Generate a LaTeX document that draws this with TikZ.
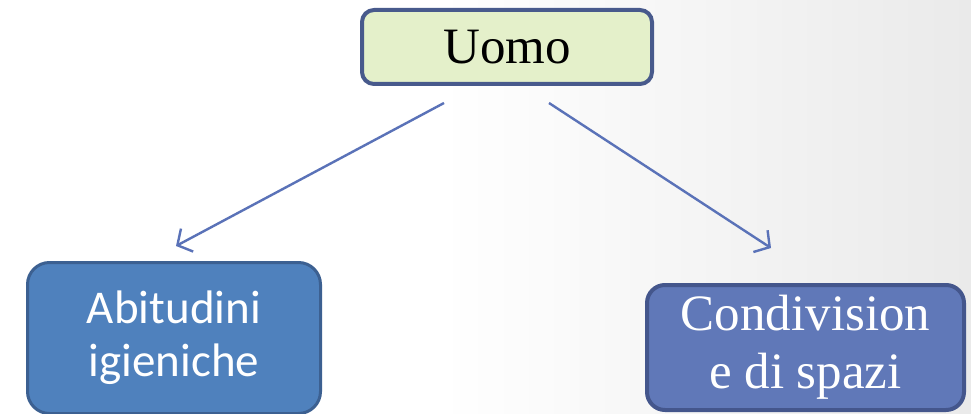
\documentclass[tikz,border=0pt]{standalone}
\usepackage{fontspec}
\newfontfamily\carlito{Carlito}
\newfontfamily\seriffont{Liberation Serif}
\usetikzlibrary{arrows.meta}
\definecolor{bggray}{RGB}{234,234,234}
\definecolor{uomofill}{RGB}{228,240,202}
\definecolor{uomodraw}{RGB}{72,90,140}
\definecolor{abifill}{RGB}{79,129,189}
\definecolor{abidraw}{RGB}{60,96,145}
\definecolor{confill}{RGB}{96,120,184}
\definecolor{condraw}{RGB}{68,86,140}
\definecolor{arrowcol}{RGB}{90,114,184}
\tikzset{
  boxbase/.style={rectangle, inner sep=0pt, align=center},
  topbox/.style={boxbase, fill=uomofill, draw=uomodraw, line width=4pt, rounded corners=12pt,
    minimum width=290pt, minimum height=74pt, font=\seriffont\fontsize{51}{58}\selectfont},
  leftbox/.style={boxbase, fill=abifill, draw=abidraw, line width=3pt, rounded corners=22pt,
    minimum width=293pt, minimum height=151pt, text=white, font=\carlito\fontsize{47}{53}\selectfont},
  rightbox/.style={boxbase, fill=confill, draw=condraw, line width=4pt, rounded corners=18pt,
    minimum width=317pt, minimum height=125pt, text=white, font=\seriffont\fontsize{51}{58}\selectfont},
  conn/.style={draw=arrowcol, line width=2.4pt, -{Straight Barb[length=11pt,width=26pt,line width=2.4pt]}}
}
\begin{document}
\begin{tikzpicture}[x=1pt,y=-1pt]
  \useasboundingbox (0,0) rectangle (971,414);
  \fill[white] (0,0) rectangle (440,414);
  \shade[left color=white, right color=bggray] (440,0) rectangle (971,414);
  \node[topbox] (uomo) at (507,47) {Uomo};
  \node[leftbox] (abi) at (174,338) {Abitudini\\igieniche};
  \node[rightbox] (con) at (805.5,347.5) {Condivision\\e di spazi};
  \coordinate (l1) at (444,103);
  \coordinate (l2) at (176,246);
  \coordinate (r1) at (549,103);
  \coordinate (r2) at (771,248);
  \draw[conn] (l1) -- (l2);
  \draw[conn] (r1) -- (r2);
\end{tikzpicture}
\end{document}
